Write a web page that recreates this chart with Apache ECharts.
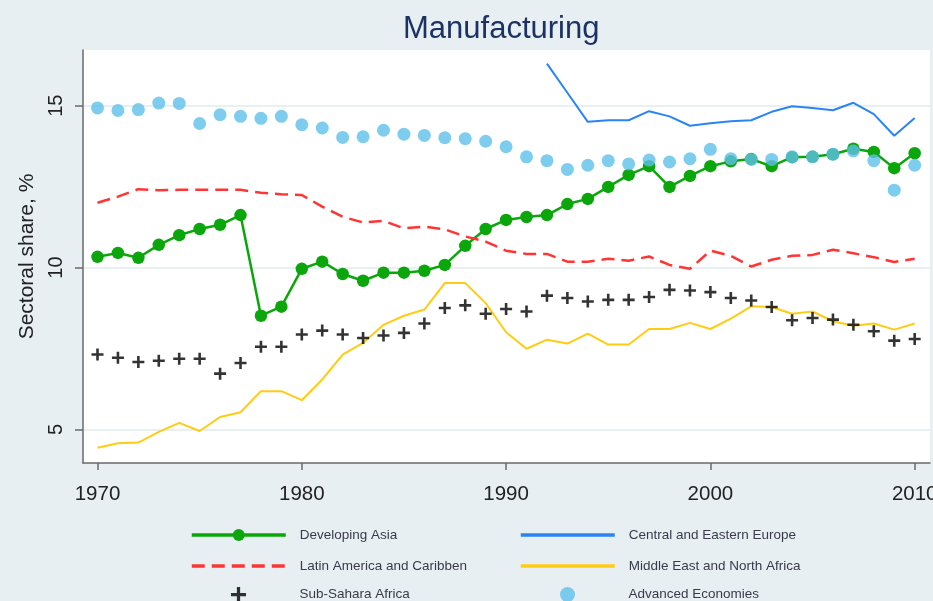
<!DOCTYPE html>
<html>
<head>
<meta charset="utf-8">
<script src="https://cdn.jsdelivr.net/npm/echarts@6/dist/echarts.min.js"></script>
<style>
html,body{margin:0;padding:0;background:#e7eff3;overflow:hidden;}
#chart{width:933px;height:601px;}
</style>
</head>
<body>
<div id="chart"></div>
<script>
var years = [];
for (var y = 1970; y <= 2010; y++) years.push(y);

var devAsia = [10.33,10.45,10.30,10.70,11.00,11.19,11.32,11.62,8.51,8.79,
  9.96,10.18,9.80,9.59,9.84,9.84,9.90,10.08,10.67,11.19,
  11.47,11.56,11.62,11.96,12.12,12.49,12.86,13.13,12.49,12.83,
  13.13,13.28,13.35,13.13,13.41,13.42,13.50,13.67,13.57,13.07,13.53];

var ceeYears = [1992,1993,1994,1995,1996,1997,1998,1999,2000,2001,2002,2003,2004,2005,2006,2007,2008,2009,2010];
var cee = [16.30,15.40,14.50,14.55,14.55,14.83,14.67,14.38,14.46,14.52,14.55,14.81,14.98,14.93,14.86,15.09,14.74,14.07,14.62];

var latAm = [12.00,12.19,12.42,12.39,12.40,12.40,12.40,12.40,12.31,12.26,
  12.24,11.88,11.57,11.39,11.44,11.21,11.26,11.18,10.96,10.80,
  10.52,10.42,10.42,10.18,10.18,10.27,10.21,10.34,10.08,9.96,
  10.52,10.36,10.03,10.24,10.36,10.39,10.55,10.44,10.32,10.17,10.27];

var mena = [4.43,4.57,4.59,4.92,5.20,4.95,5.38,5.53,6.18,6.18,
  5.90,6.54,7.31,7.67,8.23,8.51,8.70,9.52,9.52,8.90,
  8.00,7.49,7.77,7.65,7.96,7.62,7.62,8.10,8.10,8.29,
  8.10,8.42,8.80,8.78,8.57,8.64,8.34,8.20,8.27,8.08,8.27];

var ssa = [7.31,7.21,7.08,7.12,7.18,7.18,6.72,7.05,7.55,7.55,
  7.93,8.05,7.93,7.82,7.90,7.98,8.27,8.75,8.83,8.57,
  8.72,8.64,9.13,9.06,8.95,9.00,9.00,9.09,9.31,9.29,
  9.24,9.06,8.98,8.78,8.37,8.44,8.39,8.23,8.03,7.74,7.79];

var adv = [14.93,14.85,14.88,15.08,15.07,14.45,14.72,14.67,14.61,14.67,
  14.41,14.31,14.02,14.04,14.24,14.12,14.08,14.01,13.98,13.90,
  13.73,13.42,13.30,13.03,13.16,13.30,13.20,13.32,13.26,13.36,
  13.65,13.36,13.34,13.34,13.42,13.42,13.50,13.60,13.30,12.39,13.16];

var xTicks = [1970,1980,1990,2000,2010];
var yTicks = [5,10,15];

var names = ['Developing Asia','Central and Eastern Europe','Latin America and Caribben',
  'Middle East and North Africa','Sub-Sahara Africa','Advanced Economies'];

function pairs(xs, vs){ return vs.map(function(v,i){ return [xs[i], v]; }); }

var C = {green:'#0ba60b', blue:'#2a84f5', red:'#ff3434', yellow:'#ffcc14', black:'#000000', lblue:'#5ec0ea'};
var plusPath = 'path://M4.7,0h2.6v4.7h4.7v2.6h-4.7v4.7h-2.6v-4.7h-4.7v-2.6h4.7z';

var chart = echarts.init(document.getElementById('chart'), null, {renderer:'canvas'});
var legTxt = {fontFamily:'Liberation Sans', fontSize:13.5, color:'#3a3a4a', padding:[0,0,0,9]};
function leg(name, left, top, hideSym){
  var item = hideSym ? {name:name, itemStyle:{opacity:0}} : {name:name};
  return {data:[item], left:left, top:top, itemWidth:94, itemHeight:15, selectedMode:false,
    textStyle:legTxt, padding:0, lineStyle:{width:3.5}};
}
chart.setOption({
  backgroundColor:'#e7eff3',
  animation:false,
  title:{text:'Manufacturing', left:398, top:9,
    textStyle:{fontFamily:'Liberation Sans', fontSize:31, fontWeight:'normal', color:'#1c3263'}},
  grid:{left:83, right:3, top:50, bottom:138, show:true, backgroundColor:'#ffffff', borderWidth:0,
    containLabel:false, outerBoundsMode:'none'},
  legend:[
    leg(names[0],190,528,false), leg(names[1],519,528,true),
    leg(names[2],190,559,true), leg(names[3],519,559,true),
    leg(names[4],231,587,false), leg(names[5],560,587,false)
  ],
  xAxis:{type:'value', min:1969.29, max:2010.75,
    axisLine:{show:true, onZero:false, lineStyle:{color:'#6a6a6a', width:1.5}},
    axisTick:{show:true, length:7, customValues:xTicks, lineStyle:{color:'#6a6a6a', width:1.5}},
    axisLabel:{customValues:xTicks, margin:21, formatter:function(v){return String(v);},
      fontFamily:'Liberation Sans', fontSize:20.5, color:'#222', hideOverlap:false},
    splitLine:{show:false}},
  yAxis:{type:'value', min:3.96, max:16.72,
    name:'Sectoral share, %', nameLocation:'middle', nameRotate:90, nameGap:44,
    nameTextStyle:{fontFamily:'Liberation Sans', fontSize:21, color:'#222'},
    axisLine:{show:true, lineStyle:{color:'#6a6a6a', width:1.5}},
    axisTick:{show:true, length:8, customValues:yTicks, lineStyle:{color:'#6a6a6a', width:1.5}},
    axisLabel:{customValues:yTicks, rotate:90, margin:17, fontFamily:'Liberation Sans', fontSize:20, color:'#222'},
    splitLine:{show:true, lineStyle:{color:'#e8f0f2', width:2}}},
  series:[
    {name:names[0], type:'line', data:pairs(years,devAsia), color:C.green,
      lineStyle:{width:2.5, color:C.green}, symbol:'circle', symbolSize:12.5, showSymbol:true,
      itemStyle:{color:C.green}, z:2},
    {name:names[1], type:'line', data:pairs(ceeYears,cee), color:C.blue,
      lineStyle:{width:2, color:C.blue}, symbol:'none', z:3},
    {name:names[2], type:'line', data:pairs(years,latAm), color:C.red,
      lineStyle:{width:2.5, color:C.red, type:[13,7]}, symbol:'none', z:4},
    {name:names[3], type:'line', data:pairs(years,mena), color:C.yellow,
      lineStyle:{width:2, color:C.yellow}, symbol:'none', z:5},
    {name:names[4], type:'scatter', data:pairs(years,ssa), color:C.black,
      symbol:plusPath, symbolSize:12, itemStyle:{color:C.black}, z:6},
    {name:names[5], type:'scatter', data:pairs(years,adv), color:C.lblue,
      symbol:'circle', symbolSize:13, itemStyle:{color:C.lblue}, z:7}
  ]
});
</script>
</body>
</html>
